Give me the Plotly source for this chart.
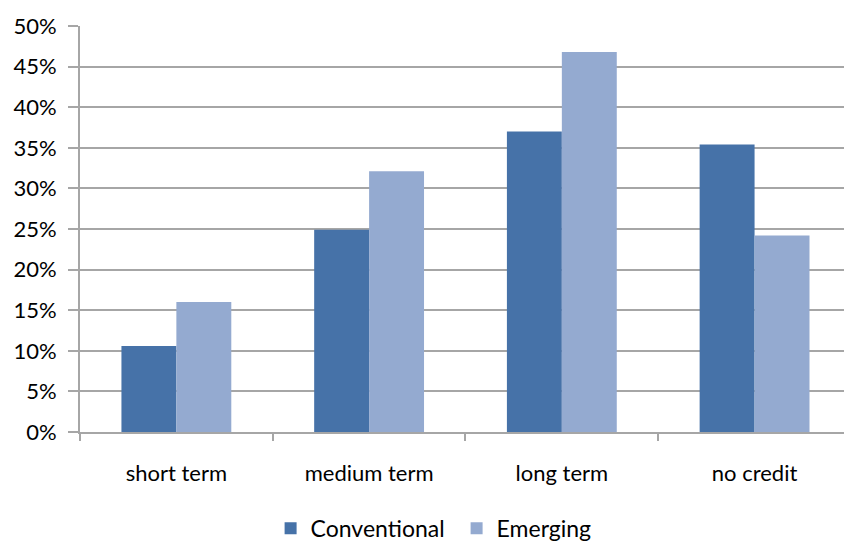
import plotly.graph_objects as go

categories = ["short term", "medium term", "long term", "no credit"]
conventional = [10.6, 24.9, 37.0, 35.4]
emerging = [16.0, 32.1, 46.8, 24.2]
y_ticks = [0, 5, 10, 15, 20, 25, 30, 35, 40, 45, 50]
y_tick_labels = [f"{v}%" for v in y_ticks]

GRID = "#A6A6A6"
FONT = "Lato"

fig = go.Figure()
fig.add_trace(go.Bar(name="Conventional", x=categories, y=conventional,
                     marker=dict(color="#4672A8", line=dict(width=0))))
fig.add_trace(go.Bar(name="Emerging", x=categories, y=emerging,
                     marker=dict(color="#94AAD0", line=dict(width=0))))

fig.update_layout(
    width=844, height=547,
    margin=dict(l=80, r=0, t=26, b=115),
    paper_bgcolor="white", plot_bgcolor="white",
    barmode="group", bargap=0.43, bargroupgap=0,
    font=dict(family=FONT, size=21, color="#000000"),
    showlegend=True,
    legend=dict(orientation="h", x=0.541, xanchor="center", xref="container",
                y=0.034, yanchor="middle", yref="container",
                font=dict(size=23), itemwidth=30, tracegroupgap=0,
                entrywidth=141, entrywidthmode="pixels"),
    xaxis=dict(range=[-0.5, 3.464], showline=True, linecolor=GRID, linewidth=2,
               ticks="outside", tickson="boundaries", ticklen=7, tickwidth=2,
               tickcolor=GRID, showgrid=False, ticklabelstandoff=21,
               tickfont=dict(size=22)),
    yaxis=dict(range=[0, 50], tickvals=y_ticks, ticktext=y_tick_labels,
               showline=True, linecolor=GRID, linewidth=2,
               showgrid=True, gridcolor=GRID, gridwidth=2,
               ticks="outside", ticklen=10, tickwidth=2, tickcolor=GRID,
               ticklabelstandoff=7, zeroline=False, tickfont=dict(size=22)),
)

fig.write_html("out.html")
